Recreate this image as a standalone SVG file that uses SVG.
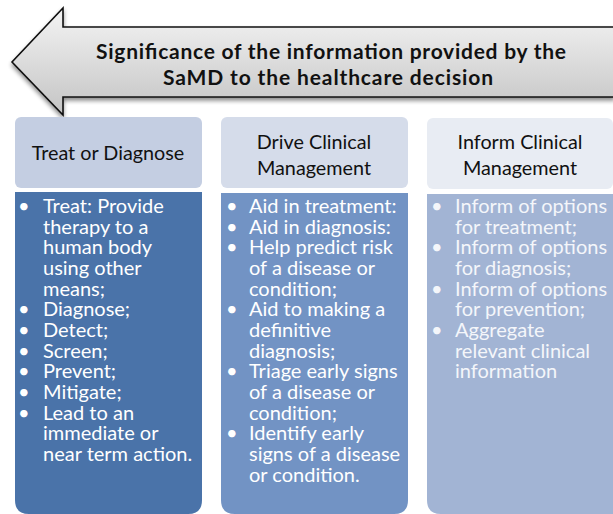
<svg xmlns="http://www.w3.org/2000/svg" width="613" height="514" viewBox="0 0 613 514">
  <defs>
    <linearGradient id="arrowGrad" x1="0" y1="0" x2="0" y2="1">
      <stop offset="0" stop-color="#f4f4f4"/>
      <stop offset="1" stop-color="#c4c4c4"/>
    </linearGradient>
    <filter id="shadow" x="-5%" y="-10%" width="110%" height="130%">
      <feGaussianBlur in="SourceAlpha" stdDeviation="2"/>
      <feOffset dx="0" dy="3" result="b"/>
      <feComponentTransfer><feFuncA type="linear" slope="0.45"/></feComponentTransfer>
      <feMerge><feMergeNode/><feMergeNode in="SourceGraphic"/></feMerge>
    </filter>
  </defs>
  <style>
    .title { font-family: Lato, "Liberation Sans", sans-serif; font-weight: bold; font-size: 21px; fill: #111; text-anchor: middle; }
    .head { font-family: Lato, "Liberation Sans", sans-serif; font-size: 19.8px; fill: #111; text-anchor: middle; }
    .body { font-family: Lato, "Liberation Sans", sans-serif; font-size: 20px; fill: #ffffff; }
    .c3 { fill: #f4f6fa; }
  </style>
  <rect width="613" height="514" fill="#ffffff"/>

  <g id="arrow">
    <path d="M615 27 L63 27 L63 8 L12 62 L63 115 L63 97 L615 97" fill="url(#arrowGrad)" stroke="#111" stroke-width="1.6" stroke-linejoin="miter" filter="url(#shadow)"/>
    <text class="title" x="331" y="59" textLength="470" lengthAdjust="spacing">Significance of the information provided by the</text>
    <text class="title" x="328" y="85" textLength="330" lengthAdjust="spacing">SaMD to the healthcare decision</text>
  </g>

  <g id="treat-or-diagnose">
    <rect x="15" y="117" width="187" height="71" rx="6" fill="#c4cee2"/>
    <text class="head" x="108" y="160">Treat or Diagnose</text>
    <path d="M15 192 H202 V500 Q202 514 188 514 H29 Q15 514 15 500 Z" fill="#4a73a9"/>
    <g class="body">
      <text x="18" y="213">•</text><text x="43" y="213">Treat: Provide</text>
      <text x="43" y="234">therapy to a</text>
      <text x="43" y="254">human body</text>
      <text x="43" y="275">using other</text>
      <text x="43" y="296">means;</text>
      <text x="18" y="316">•</text><text x="43" y="316">Diagnose;</text>
      <text x="18" y="337">•</text><text x="43" y="337">Detect;</text>
      <text x="18" y="358">•</text><text x="43" y="358">Screen;</text>
      <text x="18" y="378">•</text><text x="43" y="378">Prevent;</text>
      <text x="18" y="399">•</text><text x="43" y="399">Mitigate;</text>
      <text x="18" y="420">•</text><text x="43" y="420">Lead to an</text>
      <text x="43" y="440">immediate or</text>
      <text x="43" y="461">near term action.</text>
    </g>
  </g>

  <g id="drive-clinical-management">
    <rect x="221" y="117" width="187" height="71" rx="6" fill="#d5dcea"/>
    <text class="head" x="314" y="149">Drive Clinical</text>
    <text class="head" x="314" y="175">Management</text>
    <path d="M221 193 H408 V500 Q408 514 394 514 H235 Q221 514 221 500 Z" fill="#7293c4"/>
    <g class="body">
      <text x="226" y="213">•</text><text x="249" y="213">Aid in treatment:</text>
      <text x="226" y="234">•</text><text x="249" y="234">Aid in diagnosis:</text>
      <text x="226" y="254">•</text><text x="249" y="254">Help predict risk</text>
      <text x="249" y="275">of a disease or</text>
      <text x="249" y="296">condition;</text>
      <text x="226" y="316">•</text><text x="249" y="316">Aid to making a</text>
      <text x="249" y="337">definitive</text>
      <text x="249" y="358">diagnosis;</text>
      <text x="226" y="378">•</text><text x="249" y="378">Triage early signs</text>
      <text x="249" y="399">of a disease or</text>
      <text x="249" y="420">condition;</text>
      <text x="226" y="440">•</text><text x="249" y="440">Identify early</text>
      <text x="249" y="461">signs of a disease</text>
      <text x="249" y="482">or condition.</text>
    </g>
  </g>

  <g id="inform-clinical-management">
    <rect x="427" y="118" width="186" height="71" rx="6" fill="#e8ecf3"/>
    <text class="head" x="520" y="149">Inform Clinical</text>
    <text class="head" x="520" y="175">Management</text>
    <path d="M427 194 H613 V514 H441 Q427 514 427 500 Z" fill="#a2b4d4"/>
    <g class="body c3">
      <text x="431" y="213">•</text><text x="455" y="213">Inform of options</text>
      <text x="455" y="234">for treatment;</text>
      <text x="431" y="254">•</text><text x="455" y="254">Inform of options</text>
      <text x="455" y="275">for diagnosis;</text>
      <text x="431" y="296">•</text><text x="455" y="296">Inform of options</text>
      <text x="455" y="316">for prevention;</text>
      <text x="431" y="337">•</text><text x="455" y="337">Aggregate</text>
      <text x="455" y="358">relevant clinical</text>
      <text x="455" y="378">information</text>
    </g>
  </g>

  <g id="connectors"/>
</svg>
